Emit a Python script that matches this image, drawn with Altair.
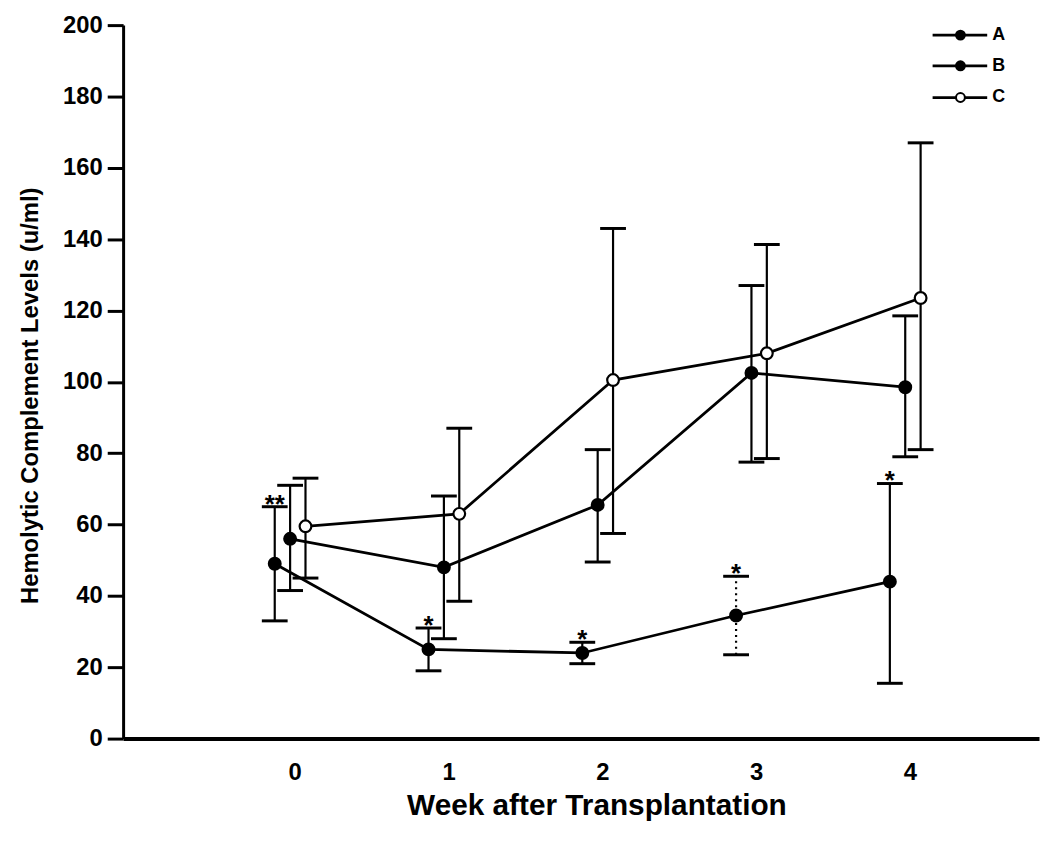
import altair as alt
import pandas as pd

weeks = [0, 1, 2, 3, 4]
series_names = ["A", "B", "C"]
offsets = {"A": -0.13, "B": -0.03, "C": 0.07}

A_mean = [49, 25, 24, 34.5, 44]
A_hi = [65, 31, 27, 45.5, 71.5]
A_lo = [33, 19, 21, 23.5, 15.5]
B_mean = [56, 48, 65.5, 102.5, 98.5]
B_hi = [71, 68, 81, 127, 118.5]
B_lo = [41.5, 28, 49.5, 77.5, 79]
C_mean = [59.5, 63, 100.5, 108, 123.5]
C_hi = [73, 87, 143, 138.5, 167]
C_lo = [45, 38.5, 57.5, 78.5, 81]

sig_text = ["**", "*", "*", "*", "*"]
A_bar_style = ["solid", "solid", "solid", "dotted", "solid"]

legend_y = [197.2, 188.6, 179.7]

FONT = "Liberation Sans"

rows = []
for s, m, hi, lo in [("A", A_mean, A_hi, A_lo), ("B", B_mean, B_hi, B_lo), ("C", C_mean, C_hi, C_lo)]:
    for i, w in enumerate(weeks):
        rows.append({
            "series": s, "week": w, "xpos": w + offsets[s],
            "mean": m[i], "hi": hi[i], "lo": lo[i],
            "style": A_bar_style[i] if s == "A" else "solid",
        })
df = pd.DataFrame(rows)

sig_df = pd.DataFrame({
    "xpos": [w + offsets["A"] for w in weeks],
    "y": A_hi,
    "text": sig_text,
})

leg_df = pd.DataFrame({
    "series": series_names,
    "x1": [4.148] * 3,
    "x2": [4.503] * 3,
    "xc": [4.329] * 3,
    "xl": [4.523] * 3,
    "y": legend_y,
})

xscale = alt.Scale(domain=[-1.116, 4.84], nice=False, zero=False)
yscale = alt.Scale(domain=[0, 200], nice=False)
fill_scale = alt.Scale(domain=series_names, range=["black", "black", "white"])

x_enc = alt.X("xpos:Q", scale=xscale, axis=alt.Axis(
    values=weeks, format="d", title="Week after Transplantation", grid=False, tickSize=0,
    domainWidth=4, domainColor="black", labelFont=FONT, labelFontSize=24,
    labelFontWeight="bold", labelColor="black", labelPadding=22,
    titleFont=FONT, titleFontSize=30, titleFontWeight="bold", titleColor="black",
    titlePadding=6, titleX=477))
y_enc = alt.Y("mean:Q", scale=yscale, axis=alt.Axis(
    values=list(range(0, 201, 20)), title="Hemolytic Complement Levels (u/ml)",
    grid=False, tickSize=16, tickWidth=3, tickColor="black", domainWidth=3,
    domainColor="black", labelFont=FONT, labelFontSize=24, labelFontWeight="bold",
    labelColor="black", labelPadding=5, titleFont=FONT, titleFontSize=24,
    titleFontWeight="bold", titleColor="black", titlePadding=20, titleY=373))

base = alt.Chart(df)

lines = base.mark_line(color="black", strokeWidth=2.8).encode(
    x=x_enc, y=y_enc, detail="series:N")

bars = base.mark_rule(color="black", strokeWidth=2.2).encode(
    x="xpos:Q", y="lo:Q", y2="hi:Q",
    strokeDash=alt.StrokeDash("style:N", scale=alt.Scale(domain=["solid", "dotted"], range=[[1, 0], [2, 4]]), legend=None))

caps_hi = base.mark_tick(color="black", orient="horizontal", size=26, thickness=3, opacity=1).encode(
    x="xpos:Q", y="hi:Q")
caps_lo = base.mark_tick(color="black", orient="horizontal", size=26, thickness=3, opacity=1).encode(
    x="xpos:Q", y="lo:Q")

points = base.mark_point(filled=False, shape="circle", size=140, stroke="black", strokeWidth=2.2, opacity=1).encode(
    x="xpos:Q", y="mean:Q",
    fill=alt.Fill("series:N", scale=fill_scale, legend=None))

sig = alt.Chart(sig_df).mark_text(font=FONT, fontSize=26, fontWeight="bold", color="black", baseline="alphabetic", dy=6).encode(
    x="xpos:Q", y="y:Q", text="text:N")

leg_base = alt.Chart(leg_df)
leg_lines = leg_base.mark_rule(color="black", strokeWidth=2.8).encode(
    x="x1:Q", x2="x2:Q", y="y:Q")
leg_pts = leg_base.mark_point(filled=False, shape="circle", size=80, stroke="black", strokeWidth=2, opacity=1).encode(
    x="xc:Q", y="y:Q", fill=alt.Fill("series:N", scale=fill_scale, legend=None))
leg_text = leg_base.mark_text(font=FONT, fontSize=18, fontWeight="bold", color="black", align="left", baseline="middle", dx=2).encode(
    x="xl:Q", y="y:Q", text="series:N")

chart = alt.layer(lines, bars, caps_hi, caps_lo, points, sig, leg_lines, leg_pts, leg_text).properties(
    width=923, height=719,
    autosize=alt.AutoSizeParams(type="none"),
    padding={"left": 116, "top": 14, "right": 3, "bottom": 107},
    background="white",
).configure_view(stroke=None)

chart.save("out.html", embed_options={"renderer": "svg", "actions": False})
